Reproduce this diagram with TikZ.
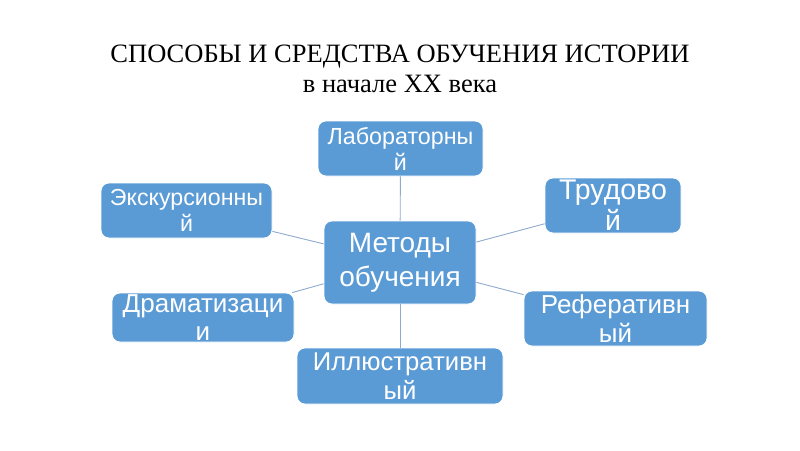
\documentclass[tikz,border=0pt]{standalone}
\usepackage{fontspec}
\setmainfont{Liberation Serif}
\newfontfamily\boxfont{Liberation Sans}
\usetikzlibrary{positioning}
\definecolor{boxblue}{RGB}{91,155,213}
\definecolor{linkgray}{RGB}{143,170,205}

\begin{document}
\begin{tikzpicture}[x=1pt,y=-1pt,
  mbase/.style={fill=boxblue, draw=white, line width=0.8pt, rounded corners=8pt, text=white, align=center, inner sep=0pt},
  mleaf/.style 2 args={mbase, font=\boxfont\fontsize{#1}{#2}\selectfont},
  mroot/.style={mbase, font=\boxfont\fontsize{28}{34}\selectfont},
  mhead/.style={font=\fontsize{26.5}{30}\selectfont, anchor=base},
  link/.style={draw=linkgray, line width=0.9pt}
 ]
  \useasboundingbox (0,0) rectangle (800,450);

  \node (head) at (400,62) [mhead] {СПОСОБЫ И СРЕДСТВА ОБУЧЕНИЯ ИСТОРИИ};
  \node (sub) at (400,92) [mhead] {в начале XX века};

  \node (met) at (400,262.5) [mroot, minimum width=152pt, minimum height=83pt] {Методы\\обучения};

  \node (lab) at (400.5,148.5) [mleaf={23.3}{26}, minimum width=165pt, minimum height=55pt] {Лабораторны\\й};
  \node (trud) at (613,205.5) [mleaf={28.5}{31}, minimum width=136pt, minimum height=55pt] {Трудово\\й};
  \node (ref) at (615.5,318.5) [mleaf={26}{29}, minimum width=183pt, minimum height=55pt] {Реферативн\\ый};
  \node (ill) at (400,376) [mleaf={25.7}{28.5}, minimum width=206pt, minimum height=56pt] {Иллюстративн\\ый};
  \node (drama) at (203,317.5) [mleaf={26}{28}, minimum width=182pt, minimum height=49pt] {Драматизаци\\и};
  \node (exc) at (186.5,210.5) [mleaf={23.2}{26}, minimum width=171pt, minimum height=55pt] {Экскурсионны\\й};

  \foreach \n in {lab,trud,ref,ill,drama,exc}
    \draw [link] (met) -- (\n);
\end{tikzpicture}
\end{document}
